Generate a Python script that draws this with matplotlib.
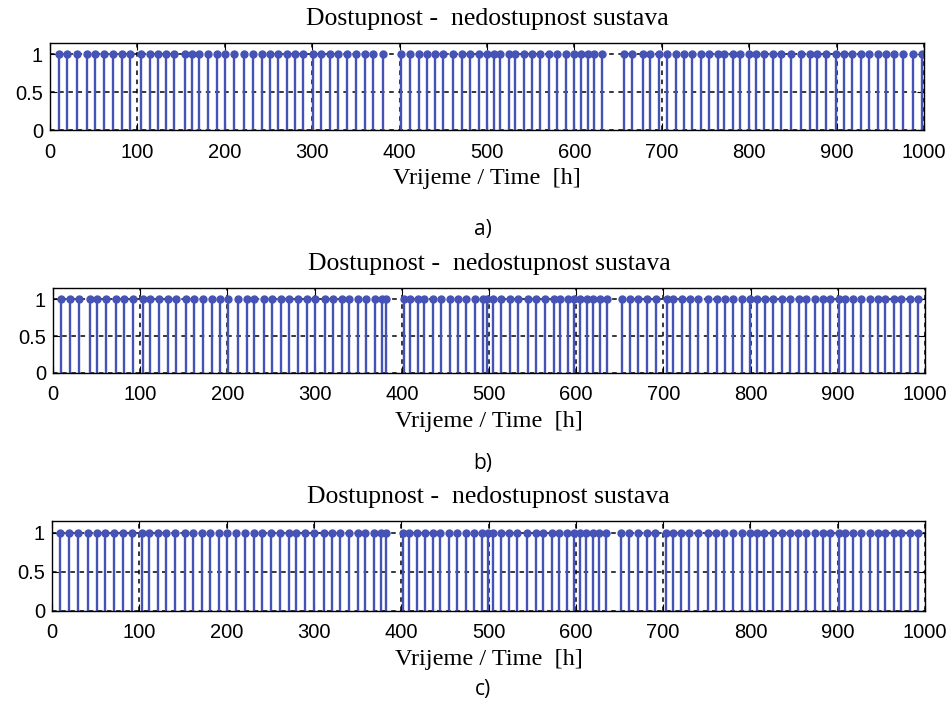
import numpy as np
import matplotlib.pyplot as plt

# stem times [h] where the system is available (value 1)
t_a = [10, 20, 31, 42, 52, 62, 72, 82, 92, 104, 114, 124, 133, 142, 154, 162, 171, 181, 191, 200,
       211, 222, 232, 242, 252, 261, 271, 280, 290, 301, 310, 320, 330, 340, 350, 360, 370, 381,
       402, 412, 422, 431, 441, 450, 461, 471, 481, 491, 500, 508, 515, 525, 532, 542, 552, 561,
       571, 580, 590, 599, 607, 615, 622, 632, 657, 666, 678, 687, 697, 706, 716, 725, 735, 745,
       754, 764, 771, 781, 790, 800, 808, 817, 827, 836, 848, 859, 869, 878, 888, 899, 909, 918,
       928, 937, 947, 957, 966, 976, 987, 998]
t_b = [9, 20, 30, 42, 51, 61, 72, 81, 92, 103, 111, 121, 132, 141, 153, 162, 172, 182, 191, 201,
       212, 222, 231, 242, 251, 261, 271, 281, 291, 300, 312, 321, 331, 340, 350, 359, 369, 377,
       382, 403, 409, 419, 426, 436, 445, 455, 465, 474, 484, 493, 498, 505, 514, 524, 533, 545,
       554, 564, 574, 581, 591, 598, 604, 612, 619, 627, 635, 652, 662, 671, 681, 692, 704, 711,
       721, 730, 740, 751, 761, 771, 780, 790, 799, 807, 816, 826, 836, 845, 855, 864, 874, 883,
       891, 901, 908, 918, 927, 937, 946, 954, 964, 973, 983, 992]
t_c = [9, 20, 30, 41, 51, 61, 71, 81, 92, 103, 111, 121, 131, 141, 152, 162, 172, 181, 191, 200,
       211, 221, 231, 241, 251, 261, 271, 280, 290, 300, 311, 321, 330, 340, 350, 359, 369, 377,
       383, 402, 409, 418, 427, 436, 445, 455, 464, 474, 483, 493, 499, 505, 514, 524, 533, 544,
       554, 563, 573, 581, 590, 598, 605, 612, 620, 627, 635, 652, 661, 671, 681, 691, 703, 711,
       721, 730, 740, 751, 761, 770, 780, 790, 799, 807, 816, 826, 836, 845, 855, 864, 874, 883,
       891, 901, 908, 918, 927, 937, 946, 954, 964, 973, 983, 992]

series = [t_a, t_b, t_c]
captions = ['a)', 'b)', 'c)']
title = 'Dostupnost -  nedostupnost sustava'
xlab = 'Vrijeme / Time  [h]'
xticks = [0, 100, 200, 300, 400, 500, 600, 700, 800, 900, 1000]
yticks = [0, 0.5, 1]
ytl = ['0', '0.5', '1']

# axes boxes in pixels (left, top, right, bottom)
boxes = [(50, 43, 924, 130), (53, 288, 925, 373), (52, 521, 925, 611)]
cap_y = [229, 464, 690]

W, H = 950, 702
fig = plt.figure(figsize=(W / 100, H / 100), dpi=100)
blue = '#4653b6'

for t, box, cap, cy in zip(series, boxes, captions, cap_y):
    l, tp, r, b = box
    ax = fig.add_axes([l / W, 1 - b / H, (r - l) / W, (b - tp) / H])
    ax.set_axisbelow(True)
    ax.grid(True, color='black', linestyle=(0, (3, 3)), linewidth=1.1)
    y = np.ones(len(t))
    ml, sl, bl = ax.stem(t, y, linefmt='-', markerfmt='o', basefmt=' ')
    plt.setp(sl, color=blue, linewidth=1.7)
    plt.setp(ml, color=blue, markersize=5)
    ax.set_xlim(0, 1000)
    ax.set_ylim(0, 1.15)
    ax.set_xticks(xticks)
    ax.set_yticks(yticks)
    ax.set_yticklabels(ytl)
    ax.tick_params(direction='in', top=True, right=True, length=5, labelsize=14.5, pad=5)
    ax.tick_params(axis='x', pad=9)
    for lab in ax.get_xticklabels() + ax.get_yticklabels():
        lab.set_family('Liberation Sans')
    for s in ax.spines.values():
        s.set_linewidth(1.0)
    ax.set_title(title, fontsize=18.5, family='Liberation Serif', pad=13)
    ax.set_xlabel(xlab, fontsize=17.5, family='Liberation Serif', labelpad=5)
    fig.text(0.508, 1 - cy / H, cap, fontsize=15, family='Open Sans', ha='center', va='center')

fig.savefig('out.png', dpi=100)
